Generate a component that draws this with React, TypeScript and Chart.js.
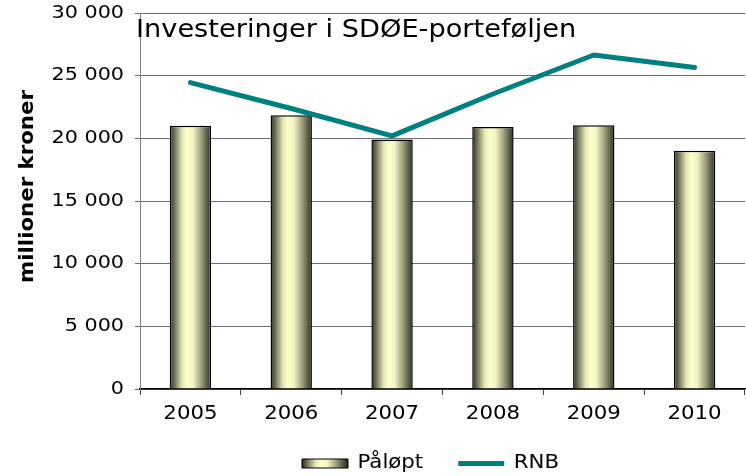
import React, { useEffect, useRef } from "react";
import { Chart, registerables } from "chart.js";

Chart.register(...registerables);

const categories = ["2005", "2006", "2007", "2008", "2009", "2010"];
const paloptValues = [21000, 21850, 19900, 20900, 21050, 19000];
const rnbValues = [24450, 22380, 20200, 23540, 26650, 25650];
const yTickValues = [0, 5000, 10000, 15000, 20000, 25000, 30000];
const chartTitle = "Investeringer i SDØE-porteføljen";
const yAxisTitle = "millioner kroner";
const seriesNames = ["Påløpt", "RNB"];

const FONT = "'DejaVu Sans', Verdana, sans-serif";
const SX = 1.12;
const TEAL = "#008080";

function patchCtx(ctx: CanvasRenderingContext2D) {
  const a = ctx as any;
  if (a.__patched) return;
  a.__patched = true;
  const origFill = ctx.fillText.bind(ctx);
  const origMeasure = ctx.measureText.bind(ctx);
  (ctx as any).fillText = function (text: string, x: number, y: number, maxWidth?: number) {
    ctx.save();
    ctx.translate(x, y);
    ctx.scale(SX, 1);
    if (maxWidth !== undefined && maxWidth !== null) origFill(text, 0, 0, maxWidth / SX);
    else origFill(text, 0, 0);
    ctx.restore();
  };
  (ctx as any).measureText = function (text: string) {
    const m = origMeasure(text);
    return {
      width: m.width * SX,
      actualBoundingBoxLeft: m.actualBoundingBoxLeft * SX,
      actualBoundingBoxRight: m.actualBoundingBoxRight * SX,
      actualBoundingBoxAscent: m.actualBoundingBoxAscent,
      actualBoundingBoxDescent: m.actualBoundingBoxDescent,
      fontBoundingBoxAscent: m.fontBoundingBoxAscent,
      fontBoundingBoxDescent: m.fontBoundingBoxDescent,
    };
  };
}

function barGradient(ctx: CanvasRenderingContext2D, x0: number, x1: number) {
  const g = ctx.createLinearGradient(x0, 0, x1, 0);
  g.addColorStop(0, "#2c2c1e");
  g.addColorStop(0.12, "#74745c");
  g.addColorStop(0.3, "#e6e6b6");
  g.addColorStop(0.42, "#ffffcc");
  g.addColorStop(0.56, "#f4f4c4");
  g.addColorStop(0.76, "#a0a07e");
  g.addColorStop(0.92, "#545440");
  g.addColorStop(1, "#2c2c1e");
  return g;
}

const BAR_PCT = 0.41;

export default function App() {
  const ref = useRef<HTMLCanvasElement>(null);

  useEffect(() => {
    document.body.style.margin = "0";
    const canvas = ref.current!;
    const ctx = canvas.getContext("2d")!;
    patchCtx(ctx);

    const decorPlugin = {
      id: "decor",
      afterLayout(chart: any) {
        const lg = chart.legend;
        if (lg) {
          lg.left -= 12;
          lg.right -= 12;
        }
      },
      beforeDraw(chart: any) {
        const lg = chart.legend;
        if (lg && lg.legendHitBoxes && lg.legendHitBoxes[0] && lg.legendItems && lg.legendItems[0]) {
          const hb = lg.legendHitBoxes[0];
          lg.legendItems[0].fillStyle = barGradient(chart.ctx, hb.left, hb.left + 45);
        }
      },
      afterDraw(chart: any) {
        const c = chart.ctx as CanvasRenderingContext2D;
        c.save();
        c.fillStyle = "#000";
        c.textAlign = "left";
        c.textBaseline = "alphabetic";
        c.font = `24.3px ${FONT}`;
        c.fillText(chartTitle, 136, 37);
        c.restore();

        c.save();
        c.fillStyle = "#000";
        c.font = `bold 19px ${FONT}`;
        c.textAlign = "center";
        c.textBaseline = "alphabetic";
        c.translate(33, 186.5);
        c.rotate(-Math.PI / 2);
        c.fillText(yAxisTitle, 0, 0);
        c.restore();
      },
    };

    const chart = new Chart(canvas, {
      type: "bar",
      data: {
        labels: categories,
        datasets: [
          {
            type: "bar",
            label: seriesNames[0],
            data: paloptValues,
            order: 1,
            backgroundColor: (c: any) => {
              const ch = c.chart;
              if (!ch.chartArea || c.type !== "data" || !ch.scales.x) return "#f5f5c4";
              const xs = ch.scales.x;
              const cx = xs.getPixelForValue(c.dataIndex);
              const w = (xs.width / categories.length) * BAR_PCT;
              return barGradient(ch.ctx, cx - w / 2, cx + w / 2);
            },
            borderColor: "#000",
            borderWidth: 1.5,
            categoryPercentage: 1,
            barPercentage: BAR_PCT,
          } as any,
          {
            type: "line",
            label: seriesNames[1],
            data: rnbValues,
            order: 0,
            borderColor: TEAL,
            backgroundColor: TEAL,
            borderWidth: 5,
            pointRadius: 0,
            pointHoverRadius: 0,
            tension: 0,
            borderCapStyle: "round",
            borderJoinStyle: "round",
            fill: false,
          } as any,
        ],
      },
      options: {
        animation: false,
        responsive: false,
        events: [],
        layout: { padding: { top: 13, left: 0, right: 1, bottom: 0 } },
        plugins: {
          tooltip: { enabled: false },
          title: { display: false },
          legend: {
            display: true,
            position: "bottom",
            fullSize: false,
            maxHeight: 57,
            labels: {
              usePointStyle: true,
              pointStyleWidth: 46,
              boxWidth: 46,
              boxHeight: 9,
              padding: 35,
              color: "#000",
              font: { family: FONT, size: 19 },
              generateLabels: () => [
                {
                  text: seriesNames[0],
                  fillStyle: "#f5f5c4",
                  strokeStyle: "#000",
                  lineWidth: 1,
                  pointStyle: "rect",
                  datasetIndex: 0,
                  hidden: false,
                  fontColor: "#000",
                } as any,
                {
                  text: seriesNames[1],
                  fillStyle: TEAL,
                  strokeStyle: TEAL,
                  lineWidth: 5,
                  pointStyle: "line",
                  datasetIndex: 1,
                  hidden: false,
                  fontColor: "#000",
                } as any,
              ],
            },
          } as any,
        },
        scales: {
          x: {
            offset: true,
            afterFit: (s: any) => {
              s.height = 30;
              s.paddingLeft = 0;
              s.paddingRight = 0;
            },
            grid: {
              offset: true,
              drawOnChartArea: false,
              drawTicks: true,
              tickLength: 6,
              color: "#404040",
            },
            border: { display: true, color: "#000", width: 1.5 },
            ticks: {
              color: "#000",
              padding: 8,
              font: { family: FONT, size: 19 },
              maxRotation: 0,
            },
          },
          y: {
            min: 0,
            max: 30000,
            afterFit: (s: any) => {
              s.width = 140;
              s.paddingTop = 0;
              s.paddingBottom = 0;
            },
            afterBuildTicks: (s: any) => {
              s.ticks = yTickValues.map((v) => ({ value: v }));
            },
            grid: {
              color: "#6e6e6e",
              lineWidth: 1,
              drawTicks: true,
              tickLength: 5,
              tickColor: "#6e6e6e",
            },
            border: { display: true, color: "#808080", width: 1 },
            ticks: {
              color: "#000",
              padding: 11,
              font: { family: FONT, size: 18.5 },
              callback: (v: any) => String(v).replace(/\B(?=(\d{3})+(?!\d))/g, " "),
            },
          },
        },
      } as any,
      plugins: [decorPlugin],
    });

    return () => chart.destroy();
  }, []);

  return (
    <div style={{ width: 746, height: 476, position: "relative", background: "#fff" }}>
      <canvas ref={ref} width={746} height={476} style={{ display: "block", width: 746, height: 476 }} />
    </div>
  );
}
